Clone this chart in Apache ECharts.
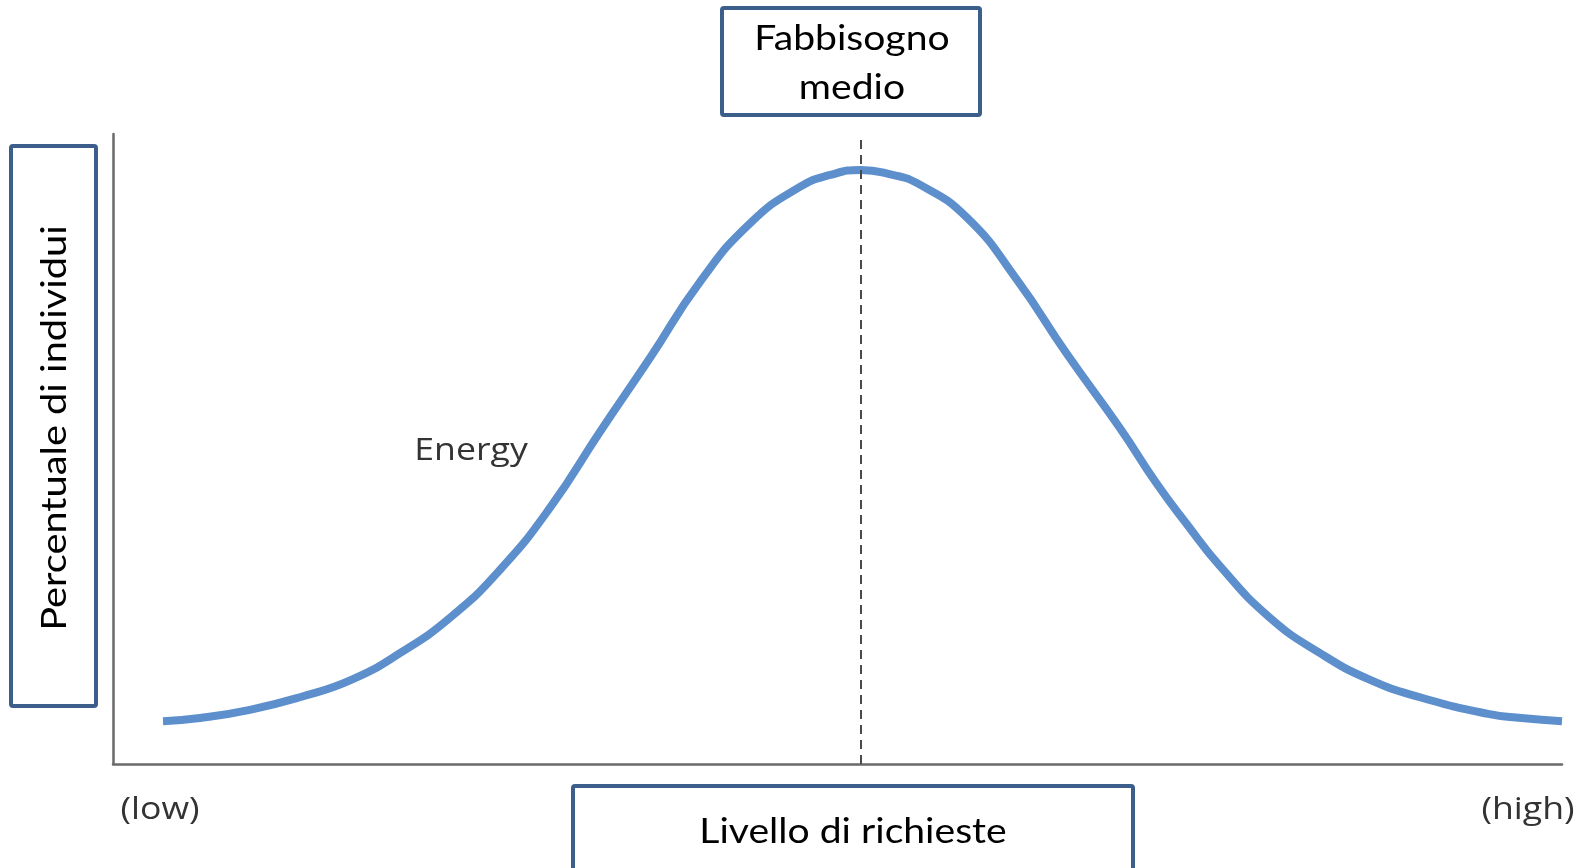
<!DOCTYPE html>
<html>
<head>
<meta charset="utf-8">
<script type="text/javascript" src="https://cdn.jsdelivr.net/npm/echarts@6/dist/echarts.min.js"></script>
<style>
  html, body { margin:0; padding:0; background:#fff; }
  #chart-curve { width:1583px; height:868px; }
</style>
</head>
<body>
<div id="chart-curve"></div>

<script>
// livello di richieste (x) e percentuale di individui (y)
var levelX = [3.45, 6.0, 9.45, 12.9, 16.4, 19.8, 23.3, 26.7, 30.2, 33.6, 37.1, 40.5, 44.0, 47.4, 49.5, 51.6,
              53.8, 55.5, 58.9, 62.4, 65.8, 69.5, 72.0, 74.1, 76.4, 79.8, 83.3, 86.8, 90.2, 94.8, 97.2, 100];
var percentY = [6.8, 7.3, 8.6, 10.6, 13.3, 17.6, 23.3, 30.8, 40.8, 52.7, 64.6, 76.5, 85.9, 91.6, 93.5, 94.3,
                93.5, 92.2, 86.8, 76.8, 65.2, 53.3, 44.6, 38.1, 31.4, 23.3, 17.6, 13.3, 10.6, 8.0, 7.3, 6.8];
var meanLevel = 51.6;   // fabbisogno medio
var seriesName = 'Energy';
var endLabels = ['(low)', '(high)'];

var boxBorder = '#3b5e8b';
var boxFont = 'Lato, "Liberation Sans", sans-serif';
var smallFont = '"Open Sans", "Noto Sans", sans-serif';

function chartCurveShow(){
  var chartCurve = echarts.init(document.getElementById('chart-curve'));
  var points = [];
  for(var i in levelX){
    points.push([levelX[i], percentY[i]]);
  }
  var option = {
    animation:false,
    grid:{ left:113, right:21, top:134, bottom:104 },
    xAxis:{
      type:'value', min:0, max:100,
      axisLine:{ show:true, lineStyle:{ color:'#6a6a6a', width:2.5 } },
      axisTick:{ show:false },
      axisLabel:{ show:false },
      splitLine:{ show:false }
    },
    yAxis:{
      type:'value', min:0, max:100,
      axisLine:{ show:true, lineStyle:{ color:'#6a6a6a', width:2.5 } },
      axisTick:{ show:false },
      axisLabel:{ show:false },
      splitLine:{ show:false }
    },
    series:[
      {
        name:seriesName,
        type:'line',
        data:points,
        smooth:0.5,
        symbol:'none',
        lineStyle:{ color:'#5d8fcd', width:8, cap:'butt' },
        markLine:{
          silent:true,
          symbol:'none',
          label:{ show:false },
          lineStyle:{ color:'#4a4a4a', width:2, type:[9, 6] },
          data:[ { xAxis:meanLevel } ]
        }
      }
    ],
    graphic:[
      // box in alto
      { type:'rect', shape:{ x:722, y:8, width:258, height:107, r:2 },
        style:{ fill:'#fff', stroke:boxBorder, lineWidth:4 } },
      { type:'text', x:852, y:39, scaleX:1.15,
        style:{ text:'Fabbisogno', fontFamily:boxFont, fontSize:34, fill:'#000', align:'center', verticalAlign:'middle' } },
      { type:'text', x:852, y:88, scaleX:1.15,
        style:{ text:'medio', fontFamily:boxFont, fontSize:34, fill:'#000', align:'center', verticalAlign:'middle' } },
      // box a sinistra
      { type:'rect', shape:{ x:11, y:146, width:85, height:560, r:2 },
        style:{ fill:'#fff', stroke:boxBorder, lineWidth:4 } },
      { type:'text', x:55, y:428, rotation:Math.PI/2, scaleX:1.17,
        style:{ text:'Percentuale di individui', fontFamily:boxFont, fontSize:34, fill:'#000', align:'center', verticalAlign:'middle' } },
      // box in basso
      { type:'rect', shape:{ x:573, y:786, width:560, height:100, r:2 },
        style:{ fill:'#fff', stroke:boxBorder, lineWidth:4 } },
      { type:'text', x:853, y:832, scaleX:1.15,
        style:{ text:'Livello di richieste', fontFamily:boxFont, fontSize:34, fill:'#000', align:'center', verticalAlign:'middle' } },
      // etichette
      { type:'text', x:471, y:451, scaleX:1.15,
        style:{ text:seriesName, fontFamily:smallFont, fontSize:31, fill:'#333', align:'center', verticalAlign:'middle' } },
      { type:'text', x:160, y:810, scaleX:1.15,
        style:{ text:endLabels[0], fontFamily:smallFont, fontSize:31, fill:'#333', align:'center', verticalAlign:'middle' } },
      { type:'text', x:1528, y:810, scaleX:1.15,
        style:{ text:endLabels[1], fontFamily:smallFont, fontSize:31, fill:'#333', align:'center', verticalAlign:'middle' } }
    ]
  };
  chartCurve.setOption(option);
}

chartCurveShow();
</script>
</body>
</html>
